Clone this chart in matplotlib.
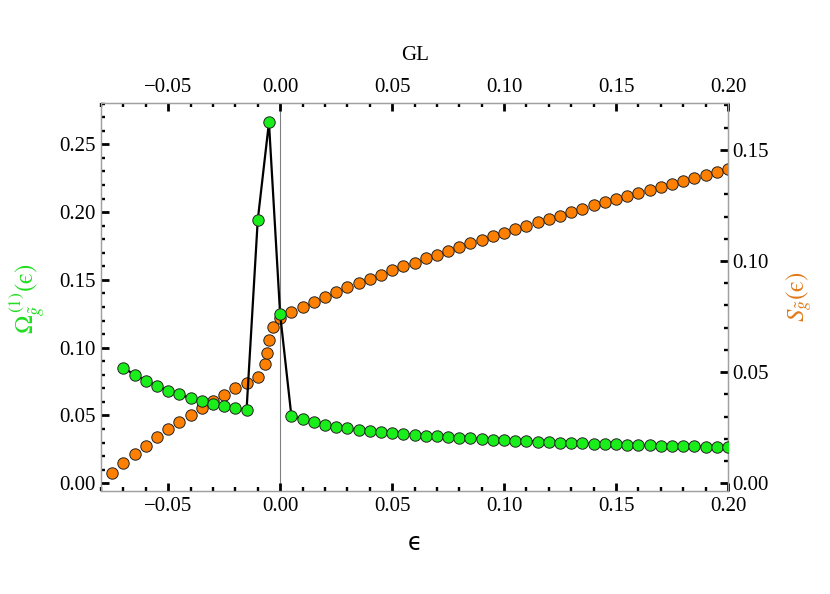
import numpy as np
import matplotlib
matplotlib.use("Agg")
import matplotlib.pyplot as plt
from matplotlib.ticker import MultipleLocator, FuncFormatter

plt.rcParams['font.family'] = ['Liberation Serif', 'DejaVu Serif']
plt.rcParams['mathtext.fontset'] = 'stix'

# ---- data ----
omega_eps = [-0.07, -0.065, -0.06, -0.055, -0.05, -0.045, -0.04, -0.035, -0.03, -0.025,
             -0.02, -0.015, -0.01, -0.005, 0.0, 0.005, 0.01, 0.015, 0.02, 0.025,
             0.03, 0.035, 0.04, 0.045, 0.05, 0.055, 0.06, 0.065, 0.07, 0.075,
             0.08, 0.085, 0.09, 0.095, 0.10, 0.105, 0.11, 0.115, 0.12, 0.125,
             0.13, 0.135, 0.14, 0.145, 0.15, 0.155, 0.16, 0.165, 0.17, 0.175,
             0.18, 0.185, 0.19, 0.195, 0.20]
omega_vals = [0.0853, 0.0799, 0.0757, 0.0720, 0.0683, 0.0656, 0.0627, 0.0607, 0.0585, 0.0570,
              0.0553, 0.0540, 0.1942, 0.2662, 0.1246, 0.0499, 0.0472, 0.0450, 0.0432, 0.0416,
              0.0405, 0.0395, 0.0386, 0.0378, 0.0371, 0.0364, 0.0356, 0.0351, 0.0347, 0.0341,
              0.0336, 0.0332, 0.0327, 0.0322, 0.0319, 0.0314, 0.0312, 0.0307, 0.0305, 0.0300,
              0.0297, 0.0295, 0.0292, 0.0290, 0.0288, 0.0285, 0.0282, 0.0280, 0.0277, 0.0276,
              0.0275, 0.0273, 0.0270, 0.0269, 0.0268]

s_eps = [-0.075, -0.07, -0.065, -0.06, -0.055, -0.05, -0.045, -0.04, -0.035, -0.03,
         -0.025, -0.02, -0.015, -0.01, -0.0067, -0.006, -0.005, -0.003, 0.0, 0.005,
         0.01, 0.015, 0.02, 0.025, 0.03, 0.035, 0.04, 0.045, 0.05, 0.055,
         0.06, 0.065, 0.07, 0.075, 0.08, 0.085, 0.09, 0.095, 0.10, 0.105,
         0.11, 0.115, 0.12, 0.125, 0.13, 0.135, 0.14, 0.145, 0.15, 0.155,
         0.16, 0.165, 0.17, 0.175, 0.18, 0.185, 0.19, 0.195, 0.20]
s_vals = [0.0048, 0.0090, 0.0132, 0.0169, 0.0208, 0.0243, 0.0277, 0.0309, 0.0338, 0.0372,
          0.0397, 0.0428, 0.0453, 0.0480, 0.0536, 0.0588, 0.0645, 0.0702, 0.0743, 0.0770,
          0.0795, 0.0817, 0.0840, 0.0861, 0.0882, 0.0901, 0.0921, 0.0939, 0.0959, 0.0977,
          0.0993, 0.1013, 0.1029, 0.1047, 0.1063, 0.1080, 0.1096, 0.1113, 0.1128, 0.1143,
          0.1159, 0.1177, 0.1191, 0.1204, 0.1221, 0.1236, 0.1251, 0.1266, 0.1278, 0.1292,
          0.1306, 0.1321, 0.1335, 0.1348, 0.1362, 0.1375, 0.1389, 0.1402, 0.1414]

GREEN = '#1aee1a'
ORANGE = '#ff8000'
SPINE = '#a0a0a0'

W, H = 830, 594
fig = plt.figure(figsize=(W / 100, H / 100), dpi=100)
L, R, T, B = 101, 728, 103, 491
ax = fig.add_axes([L / W, 1 - B / H, (R - L) / W, (B - T) / H])
ax2 = ax.twinx()

# orange series on right axis
ax2.axvline(0, color='#808080', lw=0.8, zorder=0)
ax2.plot(s_eps, s_vals, 'o', color=ORANGE, markersize=8.2, markeredgecolor='#222222',
         markeredgewidth=0.7, zorder=3)

# green series on left axis (drawn on top)
ax.set_zorder(ax2.get_zorder() + 1)
ax.patch.set_visible(False)
ax.plot(omega_eps, omega_vals, '-', color='black', lw=1.6, zorder=2)
ax.plot(omega_eps, omega_vals, 'o', color=GREEN, markersize=8.2, markeredgecolor='#222222',
        markeredgewidth=0.7, zorder=3)

ax.set_xlim(-0.08, 0.2)
ax.set_ylim(-0.0057, 0.2805)
ax2.set_ylim(-0.0035, 0.1711)

fs = 15
for a in (ax, ax2):
    for sp in a.spines.values():
        sp.set_color(SPINE)
        sp.set_linewidth(0.9)

ax.xaxis.set_major_locator(MultipleLocator(0.05))
ax.xaxis.set_minor_locator(MultipleLocator(0.01))
ax.yaxis.set_major_locator(MultipleLocator(0.05))
ax.yaxis.set_minor_locator(MultipleLocator(0.01))
ax2.yaxis.set_major_locator(MultipleLocator(0.05))
ax2.yaxis.set_minor_locator(MultipleLocator(0.01))


def fmt(v, pos=None):
    s = '%.2f' % v
    if s.startswith('-'):
        s = '\u2212' + s[1:]
    if s == '\u22120.00':
        s = '0.00'
    return s


ax.xaxis.set_major_formatter(FuncFormatter(fmt))
ax.yaxis.set_major_formatter(FuncFormatter(fmt))
ax2.yaxis.set_major_formatter(FuncFormatter(fmt))

ax.tick_params(axis='x', which='both', direction='in', top=True, bottom=True,
               labeltop=True, labelbottom=True, labelsize=fs, colors='black', pad=4)
ax.tick_params(axis='y', which='both', direction='in', left=True, right=False,
               labelsize=fs, pad=4)
ax2.tick_params(axis='y', which='both', direction='in', right=True, left=False,
                labelsize=fs, pad=3)
for a in (ax, ax2):
    a.tick_params(which='major', length=5.5, width=2.0, color='black')
    a.tick_params(which='minor', length=3.0, width=1.7, color='black')

# axis labels
fig.text(415 / W, 1 - 55 / H, 'GL', ha='center', va='center', fontsize=fs)
fig.text(415 / W, 1 - 543 / H, '\u03f5', ha='center', va='center', fontsize=17,
         family=['DejaVu Sans'])
fig.text(27 / W, 1 - 298 / H, '$\\Omega_{\\tilde{g}}^{\\,(1)}(\\mathrm{\u03f5})$', ha='center',
         va='center', rotation=90, fontsize=18, color='#22dd22')
fig.text(799 / W, 1 - 297 / H, '$S_{\\tilde{g}}(\\mathrm{\u03f5})$', ha='center', va='center',
         rotation=90, fontsize=18, color='#e07a1a')

fig.savefig('out.png', dpi=100)
